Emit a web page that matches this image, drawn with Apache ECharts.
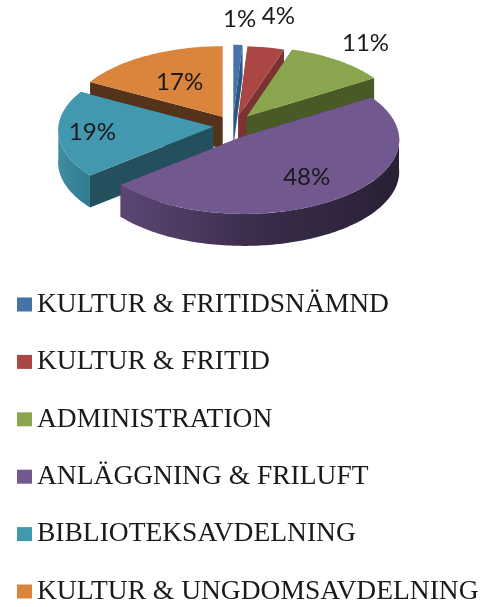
<!DOCTYPE html>
<html>
<head>
<meta charset="utf-8">
<style>
html,body{margin:0;padding:0;background:#fff;}
#pie{width:488px;height:607px;}
</style>
<script src="https://cdn.jsdelivr.net/npm/echarts@6/dist/echarts.min.js"></script>
</head>
<body>
<div id="pie"></div>
<script>
var categories = ['KULTUR & FRITIDSNÄMND','KULTUR & FRITID','ADMINISTRATION','ANLÄGGNING & FRILUFT','BIBLIOTEKSAVDELNING','KULTUR & UNGDOMSAVDELNING'];
var values = [1,4,11,48,19,17];
var colors = ['#4572a7','#aa4643','#89a54e','#71588f','#4198af','#db843d'];
var wallColors = ['#2f5585','#7c3230','#4a5a27','#3a2c4a','#24505e','#55321a'];
var rimColors = [
	['#3a6496','#3a6496'],
	['#8a3836','#8a3836'],
	['#5f7434','#5f7434'],
	['#5c4674','#3a2c4a','#292035'],
	['#3f8ca3','#2f7a90'],
	['#9a5c2a','#9a5c2a']
];
//每一块的位置(爆炸后的圆心)
var centers = [[233.3,115.3],[238.3,116.7],[246.7,116.7],[244,136],[213.3,126.7],[222.7,116.7]];
//标签所在半径比例
var labelRadius = [1.37,1.45,1.3,0.66,0.78,0.57];
//绘制顺序:后面的块先画
var drawOrder = [5,0,1,2,4,3];
var rx = 155, ry = 74, depth = 32, persp = 0.05;

var total = 0;
for(var i=0;i<values.length;i++){
	total += values[i];
}

function point(idx,ang,frac,dy){
	var p = 1/(1+persp*Math.cos(ang));
	return [
		centers[idx][0] + rx*frac*Math.sin(ang)*p,
		centers[idx][1] - ry*frac*Math.cos(ang)*p + (dy||0)
	];
}

function arc(idx,a0,a1,dy){
	var pts = [];
	var n = Math.max(4,Math.ceil((a1-a0)/0.02));
	for(var i=0;i<=n;i++){
		pts.push(point(idx,a0+(a1-a0)*i/n,1,dy));
	}
	return pts;
}

function sliceItem(idx){
	return function(params,api){
		var before = 0;
		for(var i=0;i<idx;i++){
			before += values[i];
		}
		var v = api.value(0);
		var a0 = before/total*Math.PI*2;
		var a1 = (before+v)/total*Math.PI*2;
		var c = centers[idx];
		var cb = [c[0],c[1]+depth];
		var wallStyle = {fill:wallColors[idx]};
		var top = arc(idx,a0,a1,0);
		var bottom = arc(idx,a0,a1,depth);
		var children = [
			{type:'polygon',shape:{points:[c,cb,bottom[0],top[0]]},style:wallStyle},
			{type:'polygon',shape:{points:[c,cb,bottom[bottom.length-1],top[top.length-1]]},style:wallStyle}
		];
		//外侧弧面只画朝前的半圈
		var r0 = Math.max(a0,Math.PI/2);
		var r1 = Math.min(a1,Math.PI*1.5);
		if(r1>r0){
			var rimTop = arc(idx,r0,r1,0);
			var rimBottom = arc(idx,r0,r1,depth);
			var stops = [];
			for(var s=0;s<rimColors[idx].length;s++){
				stops.push({offset:s/(rimColors[idx].length-1),color:rimColors[idx][s]});
			}
			var xs = rimTop.map(function(q){return q[0];});
			children.push({type:'polygon',shape:{points:rimTop.concat(rimBottom.slice().reverse())},style:{fill:{
				type:'linear',x:Math.min.apply(null,xs),y:0,x2:Math.max.apply(null,xs),y2:0,
				global:true,colorStops:stops
			}}});
		}
		children.push({type:'polygon',shape:{points:[c].concat(top)},style:{fill:colors[idx]}});
		var lp = point(idx,(a0+a1)/2,labelRadius[idx],0);
		children.push({type:'text',z2:100,style:{
			x:lp[0],y:lp[1],text:v+'%',align:'center',verticalAlign:'middle',
			fontFamily:'Lato',fontSize:24,fill:'#1a1a1a'
		}});
		return {type:'group',children:children};
	};
}

var series = [];
//图例顺序按categories,绘制顺序靠z控制
for(var i=0;i<categories.length;i++){
	series.push({
		type:'custom',
		name:categories[i],
		coordinateSystem:'none',
		z:2+drawOrder.indexOf(i),
		silent:true,
		itemStyle:{color:colors[i]},
		renderItem:sliceItem(i),
		data:[[values[i]]]
	});
}

var myChart_1 = echarts.init(document.getElementById('pie'));
myChart_1.setOption({
	animation:false,
	backgroundColor:'#fff',
	legend:{
		orient:'vertical',
		left:17,
		top:290,
		padding:0,
		itemWidth:15,
		itemHeight:14,
		itemGap:28.4,
		icon:'rect',
		selectedMode:false,
		data:categories,
		textStyle:{
			fontFamily:'Liberation Serif',
			fontSize:27.5,
			lineHeight:29,
			color:'#1a1a1a'
		}
	},
	series:series
});
</script>
</body>
</html>
